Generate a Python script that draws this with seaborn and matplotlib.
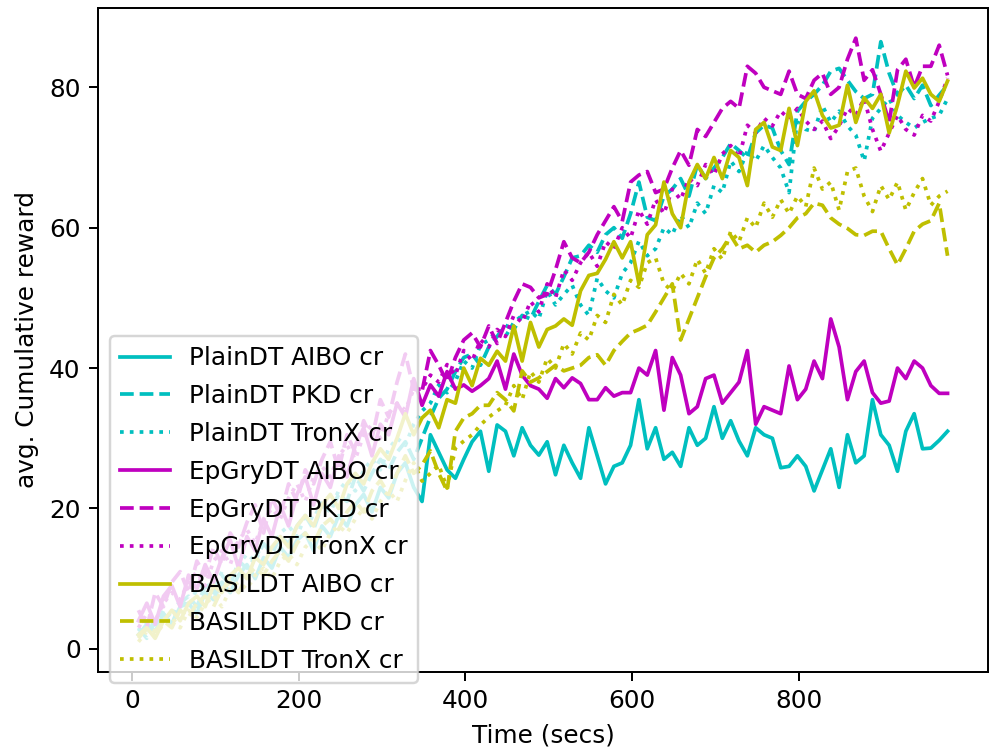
import numpy as np
import matplotlib
matplotlib.use("Agg")
import matplotlib.pyplot as plt
import seaborn as sns

# time axis (secs)
time_secs = np.arange(8, 979, 10)

plaindt_aibo = [2.0, 3.5, 2.5, 5.0, 3.5, 6.0, 6.5, 5.0, 8.0, 7.0, 9.5, 8.0, 10.5, 12.0, 10.0, 13.0, 11.5,
                14.5, 13.0, 15.5, 16.5, 14.0, 17.5, 16.0, 19.0, 17.5, 20.5, 22.0, 19.5, 23.0, 21.5, 25.0, 26.5, 23.0,
                21.0, 30.5, 28.0, 25.5, 24.3, 27.0, 29.5, 31.0, 25.3, 31.9,
                31.0, 27.5, 31.5, 29.0, 27.6, 29.5, 24.8, 29.0, 26.5, 24.3,
                31.5, 27.5, 23.5, 26.0, 26.5, 29.0, 35.5, 28.5, 31.5, 27.0,
                28.0, 26.0, 31.5, 29.0, 30.0, 34.5, 30.0, 32.5, 29.6, 27.5,
                31.5, 30.5, 30.0, 25.8, 26.0, 27.5, 26.0, 22.5, 25.5, 28.5,
                23.0, 30.5, 26.5, 27.5, 35.5, 30.5, 29.0, 25.3, 31.0, 33.5,
                28.5, 28.6, 29.7, 31.0]

plaindt_pkd = [3.0, 1.5, 4.5, 5.0, 3.5, 6.5, 7.5, 6.0, 9.0, 8.0, 10.5, 9.0, 12.5, 11.5, 13.0, 15.0, 13.5,
               16.0, 15.0, 17.5, 19.0, 17.0, 20.5, 19.5, 22.0, 21.0, 24.5, 22.5, 25.0, 27.0, 25.5, 28.0, 29.5, 27.0,
               30.0, 33.0, 35.7, 37.0, 39.5, 41.5, 42.0, 40.4, 43.0, 44.5,
               46.1, 45.5, 47.5, 47.0, 49.5, 51.8, 50.5, 53.0, 55.7, 56.0,
               57.5, 56.5, 59.0, 60.0, 58.5, 62.0, 66.5, 61.5, 61.0, 64.5,
               65.5, 67.0, 64.5, 69.0, 67.0, 68.5, 70.0, 72.0, 71.0, 69.9,
               73.5, 74.6, 74.2, 71.0, 69.0, 76.6, 78.0, 79.0, 80.3, 82.3,
               82.7, 81.0, 79.4, 78.4, 79.0, 86.5, 82.0, 78.9, 80.3, 78.4,
               80.3, 77.4, 78.9, 80.3]

plaindt_tronx = [2.5, 4.0, 3.0, 5.5, 4.5, 7.0, 6.0, 8.5, 9.5, 8.0, 11.0, 10.0, 12.0, 13.5, 12.5, 15.0, 14.0,
                 16.5, 17.5, 16.0, 19.0, 18.5, 21.0, 20.0, 22.5, 24.0, 22.5, 25.5, 27.0, 25.5, 28.5, 30.0, 29.0, 32.0,
                 33.9, 35.0, 37.6, 36.5, 38.1, 41.0, 40.0, 43.3, 44.0, 45.3,
                 44.5, 46.5, 47.5, 48.1, 47.0, 51.0, 49.0, 50.5, 51.8, 49.0,
                 47.5, 52.8, 51.0, 50.0, 53.5, 55.0, 58.1, 56.0, 57.0, 60.0,
                 59.0, 61.8, 60.0, 63.5, 62.0, 66.0, 65.0, 69.5, 68.0, 70.9,
                 69.5, 71.7, 70.0, 68.5, 65.0, 75.6, 74.0, 73.7, 77.4, 75.0,
                 76.6, 74.5, 73.2, 69.5, 75.6, 77.0, 78.4, 76.0, 75.0, 74.2,
                 75.0, 75.6, 76.0, 78.4]

epgrydt_aibo = [4.0, 6.5, 3.5, 7.5, 9.0, 6.0, 10.5, 8.5, 12.0, 9.5, 13.0, 15.5, 11.5, 16.0, 14.0, 18.5, 16.0,
                20.5, 17.5, 22.0, 24.5, 20.5, 25.0, 23.0, 27.5, 24.5, 29.0, 31.5, 27.5, 32.0, 30.5, 35.0, 33.0, 38.5,
                34.7, 37.6, 36.0, 39.5, 37.0, 37.6, 36.7, 37.5, 38.5, 41.0,
                37.0, 42.0, 39.0, 37.5, 37.0, 35.7, 38.5, 37.2, 38.6, 37.8,
                35.5, 35.5, 37.2, 36.0, 36.5, 36.5, 40.0, 39.0, 42.5, 34.0,
                41.5, 39.0, 33.5, 34.5, 38.5, 39.0, 35.0, 36.5, 38.0, 42.5,
                32.0, 34.5, 34.0, 33.5, 40.3, 35.5, 37.0, 41.0, 38.5, 47.0,
                43.0, 35.5, 39.5, 41.0, 36.5, 35.0, 35.3, 40.0, 38.5, 41.0,
                40.0, 37.5, 36.4, 36.4]

epgrydt_pkd = [5.5, 3.0, 8.0, 6.0, 9.5, 11.0, 8.0, 12.5, 10.5, 14.5, 12.0, 16.5, 14.5, 18.0, 20.5, 16.5, 21.5,
               19.0, 23.5, 21.0, 25.5, 23.5, 27.0, 29.5, 25.5, 30.5, 28.0, 32.5, 30.0, 35.5, 33.0, 38.0, 42.0, 37.0,
               36.7, 42.5, 40.4, 38.0, 41.5, 44.0, 45.0, 43.0, 46.0, 43.5,
               46.5, 49.5, 52.0, 51.5, 50.0, 50.5, 54.0, 58.0, 55.7, 55.0,
               56.5, 59.0, 61.0, 63.0, 60.9, 66.5, 67.5, 68.0, 65.0, 65.5,
               68.5, 71.0, 68.9, 74.0, 73.0, 75.0, 77.0, 78.0, 77.0, 83.0,
               82.0, 80.0, 79.5, 79.0, 82.3, 79.0, 78.4, 81.0, 82.0, 79.0,
               80.0, 84.0, 87.0, 81.0, 82.5, 79.0, 75.0, 82.5, 84.0, 80.0,
               83.0, 83.0, 86.0, 81.7]

epgrydt_tronx = [3.0, 5.0, 4.0, 6.5, 8.0, 7.0, 9.5, 11.0, 9.0, 12.5, 14.0, 12.0, 15.5, 17.0, 15.0, 18.5, 20.0,
                 18.5, 21.5, 23.5, 21.0, 24.5, 26.0, 24.5, 27.5, 29.0, 27.0, 30.5, 32.0, 30.0, 33.5, 35.0, 34.0, 37.0,
                 37.0, 39.0, 38.0, 40.5, 39.0, 42.5, 41.0, 44.0, 43.0, 45.5,
                 44.5, 47.5, 46.5, 49.5, 48.0, 52.0, 50.0, 54.0, 52.5, 55.0,
                 56.5, 54.5, 58.0, 57.0, 60.0, 58.5, 62.5, 60.5, 64.0, 62.0,
                 65.5, 64.0, 67.0, 66.0, 69.0, 67.5, 70.5, 71.7, 70.0, 74.6,
                 73.5, 75.6, 74.5, 76.6, 75.5, 77.0, 75.2, 74.0, 75.2, 72.7,
                 74.5, 77.0, 76.0, 78.4, 74.0, 70.9, 73.5, 76.0, 74.0, 73.2,
                 76.0, 75.2, 78.0, 81.3]

basildt_aibo = [2.0, 3.0, 1.5, 4.0, 5.5, 4.0, 6.5, 7.5, 6.0, 9.0, 8.0, 10.5, 11.5, 10.0, 13.0, 12.0, 14.5,
                16.0, 14.5, 17.5, 19.0, 17.5, 20.5, 22.0, 20.0, 23.5, 25.0, 23.5, 26.5, 28.5, 27.0, 30.0, 33.5, 30.5,
                32.9, 34.0, 31.5, 35.5, 35.0, 40.0, 37.5, 41.4, 40.4, 42.4,
                41.0, 46.0, 41.0, 46.5, 43.0, 45.5, 46.0, 47.0, 46.1, 51.0,
                53.2, 53.5, 55.5, 58.0, 55.7, 58.0, 52.0, 59.0, 60.4, 66.5,
                62.0, 60.0, 66.5, 69.0, 67.0, 70.0, 67.0, 71.0, 70.0, 66.0,
                74.0, 75.0, 71.5, 71.0, 77.0, 71.7, 78.0, 79.5, 76.0, 74.2,
                74.6, 80.3, 75.0, 78.5, 77.0, 79.0, 73.5, 77.5, 82.3, 79.9,
                81.3, 79.0, 78.0, 80.9]

basildt_pkd = [1.5, 3.0, 2.5, 4.0, 3.0, 5.5, 4.5, 6.5, 7.5, 6.0, 8.5, 9.5, 8.0, 10.5, 11.5, 10.5, 12.5,
               14.0, 12.5, 15.0, 16.5, 15.0, 17.5, 18.5, 17.0, 19.5, 21.0, 19.5, 22.5, 24.0, 22.0, 25.0, 27.5, 25.0,
               26.2, 28.2, 25.0, 22.5, 31.0, 32.9, 33.5, 34.7, 34.7, 36.5,
               35.5, 33.9, 39.6, 38.0, 38.6, 39.5, 40.4, 39.6, 40.0, 40.4,
               41.5, 41.9, 40.4, 42.5, 43.8, 45.0, 45.5, 46.1, 48.0, 50.0,
               52.0, 44.0, 47.0, 50.0, 53.0, 55.7, 57.0, 58.9, 57.0, 57.5,
               56.5, 57.5, 58.0, 58.9, 60.0, 61.4, 62.0, 63.5, 63.2, 61.4,
               60.5, 59.9, 59.0, 58.9, 59.5, 59.5, 57.0, 54.7, 57.0, 59.5,
               60.5, 61.0, 63.5, 56.0]

basildt_tronx = [1.0, 2.5, 2.0, 3.5, 4.5, 3.0, 5.5, 4.5, 6.5, 7.5, 6.0, 8.5, 9.5, 8.5, 10.5, 11.5, 10.0,
                 12.5, 13.5, 12.0, 14.5, 15.5, 14.0, 16.5, 17.5, 16.5, 18.5, 20.0, 18.5, 21.0, 22.5, 21.0, 24.0, 26.5,
                 23.9, 25.0, 26.2, 22.9, 28.6, 29.6, 30.5, 31.9, 33.0, 33.9,
                 34.7, 37.5, 35.5, 39.5, 38.0, 41.4, 40.0, 43.5, 42.0, 45.0,
                 44.0, 47.5, 46.5, 50.5, 49.0, 52.5, 51.5, 55.0, 55.7, 52.0,
                 51.0, 53.5, 52.0, 55.5, 53.5, 57.0, 55.5, 59.5, 58.0, 61.4,
                 60.0, 63.5, 61.5, 64.0, 62.0, 64.5, 63.0, 68.5, 65.5, 66.5,
                 62.5, 68.0, 68.5, 64.5, 62.3, 66.0, 64.0, 66.5, 62.5, 65.0,
                 67.0, 63.2, 64.5, 65.2]

labels = ["PlainDT AIBO cr", "PlainDT PKD cr", "PlainDT TronX cr",
          "EpGryDT AIBO cr", "EpGryDT PKD cr", "EpGryDT TronX cr",
          "BASILDT AIBO cr", "BASILDT PKD cr", "BASILDT TronX cr"]
values = [plaindt_aibo, plaindt_pkd, plaindt_tronx,
          epgrydt_aibo, epgrydt_pkd, epgrydt_tronx,
          basildt_aibo, basildt_pkd, basildt_tronx]
colors = ["c", "c", "c", "m", "m", "m", "y", "y", "y"]
styles = ["-", "--", ":", "-", "--", ":", "-", "--", ":"]

DPI = 178
fig = plt.figure(figsize=(989 / DPI, 753 / DPI), dpi=DPI)
ax = fig.add_axes([98 / 989, 81 / 753, 890 / 989, 664 / 753])

for lab, vals, col, ls in zip(labels, values, colors, styles):
    sns.lineplot(x=time_secs, y=np.array(vals), color=col, linestyle=ls,
                 linewidth=1.5, label=lab, ax=ax)

ax.set_xlabel("Time (secs)")
ax.set_ylabel("avg. Cumulative reward")
ax.set_xticks([0, 200, 400, 600, 800])
ax.set_yticks([0, 20, 40, 60, 80])
ax.legend(loc="lower left", bbox_to_anchor=(0, -0.035), labelspacing=0.56)

fig.savefig("out.png", dpi=DPI)
